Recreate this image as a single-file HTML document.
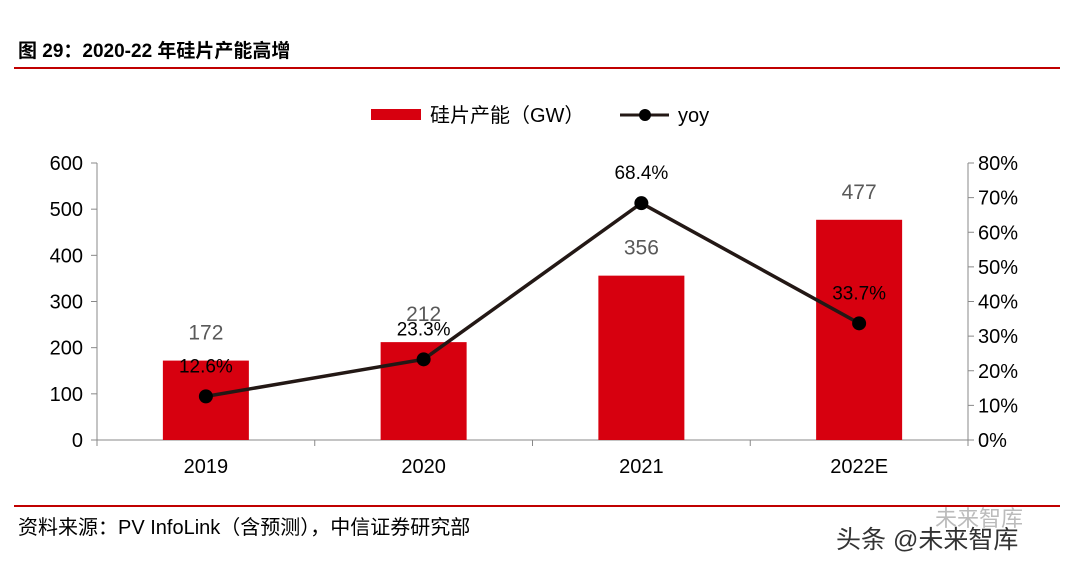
<!DOCTYPE html>
<html><head><meta charset="utf-8"><style>
body{margin:0;background:#fff;width:1074px;height:565px;overflow:hidden;font-family:"Liberation Sans","Noto Sans CJK SC",sans-serif;}
</style></head><body>
<svg width="1074" height="565" xmlns="http://www.w3.org/2000/svg" style="font-family:'Liberation Sans','Noto Sans CJK SC',sans-serif">
<text x="18" y="57" font-size="19" font-weight="bold" fill="#000">图 29：2020-22 年硅片产能高增</text>
<line x1="14" y1="68" x2="1060" y2="68" stroke="#c00000" stroke-width="2"/>
<line x1="14" y1="506" x2="1060" y2="506" stroke="#c00000" stroke-width="2"/>
<text x="18" y="534" font-size="20" fill="#000">资料来源：PV InfoLink（含预测），中信证券研究部</text>
<text x="935" y="526" font-size="22" fill="#bbb">未来智库</text>
<text x="836" y="548" font-size="25" fill="#333">头条 @未来智库</text>
<g>
<rect x="371" y="109" width="50" height="11" fill="#d7000f"/>
<text x="430" y="122" font-size="20">硅片产能（GW）</text>
<line x1="620" y1="115" x2="669" y2="115" stroke="#231815" stroke-width="3"/>
<circle cx="645" cy="115" r="6" fill="#000"/>
<text x="678" y="122" font-size="20">yoy</text>
</g>
<g id="chart"></g>
</svg>
<script>
const categories=["2019","2020","2021","2022E"];
const capacity=[172,212,356,477];
const yoy=[12.6,23.3,68.4,33.7];
const leftTicks=[0,100,200,300,400,500,600];
const rightTicks=[0,10,20,30,40,50,60,70,80];
const NS="http://www.w3.org/2000/svg";
const g=document.getElementById("chart");
const X0=97,X1=968,Y0=440,Y1=163;
const yL=v=>Y0-(v/600)*(Y0-Y1);
const yR=v=>Y0-(v/80)*(Y0-Y1);
const bw=(X1-X0)/categories.length;
const xc=i=>X0+bw*(i+0.5);
function mk(t,a,txt){const e=document.createElementNS(NS,t);for(const k in a)e.setAttribute(k,a[k]);if(txt!==undefined)e.textContent=txt;g.appendChild(e);return e;}
let e;
e=mk("line",{x1:X0,y1:Y1,x2:X0,y2:Y0,stroke:"#888"});


e=mk("line",{x1:X1,y1:Y1,x2:X1,y2:Y0,stroke:"#888"});


e=mk("line",{x1:X0,y1:Y0,x2:X1,y2:Y0,stroke:"#888"});


leftTicks.forEach(v=>{mk("line",{x1:X0-6,y1:yL(v),x2:X0,y2:yL(v),stroke:"#888"});
e=mk("text",{x:X0-14,y:yL(v)+7,"font-size":20,"text-anchor":"end"},String(v));

});
rightTicks.forEach(v=>{mk("line",{x1:X1,y1:yR(v),x2:X1+6,y2:yR(v),stroke:"#888"});
e=mk("text",{x:X1+10,y:yR(v)+7,"font-size":20},v+"%");

});
categories.forEach((c,i)=>{mk("line",{x1:X0+bw*i,y1:Y0,x2:X0+bw*i,y2:Y0+6,stroke:"#888"});
e=mk("text",{x:xc(i),y:473,"font-size":20,"text-anchor":"middle"},c);

});
mk("line",{x1:X1,y1:Y0,x2:X1,y2:Y0+6,stroke:"#888"});
capacity.forEach((v,i)=>{e=mk("rect",{x:xc(i)-43,y:yL(v),width:86,height:Y0-yL(v),fill:"#d7000f"});


e=mk("text",{x:xc(i),y:yL(v)-21,"font-size":21,"text-anchor":"middle",fill:"#595959"},String(v));

});
e=mk("polyline",{points:yoy.map((v,i)=>xc(i)+","+yR(v)).join(" "),fill:"none",stroke:"#231815","stroke-width":3.5});


yoy.forEach((v,i)=>{e=mk("circle",{cx:xc(i),cy:yR(v),r:7,fill:"#000"});


e=mk("text",{x:xc(i),y:yR(v)-24,"font-size":19,"text-anchor":"middle"},v.toFixed(1)+"%");

});
</script>
</body></html>
